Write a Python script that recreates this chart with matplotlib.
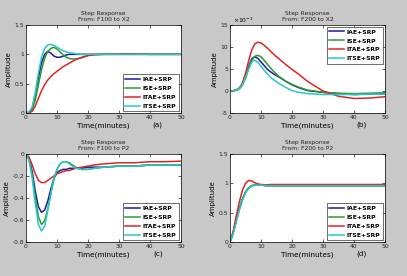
import matplotlib
matplotlib.use("Agg")
import matplotlib.pyplot as plt

# ---------------------------------------------------------------------------
# Data (step responses, time in minutes)
# ---------------------------------------------------------------------------
t = [0, 1, 2, 3, 4, 5, 6, 7, 8, 9, 10, 11, 12, 13, 14, 15, 16, 18, 20, 22, 25, 30, 35, 40, 45, 50]

labels = ["IAE+SRP", "ISE+SRP", "ITAE+SRP", "ITSE+SRP"]

# (a) F100 -> X2
a_iae = [0, 0.01, 0.08, 0.30, 0.60, 0.85, 1.00, 1.05, 1.02, 0.97, 0.95, 0.95, 0.97, 0.99, 1.00, 1.00, 1.00, 1.00, 1.00, 1.00, 1.00, 1.00, 1.00, 1.00, 1.00, 1.00]
a_ise = [0, 0.01, 0.06, 0.22, 0.48, 0.74, 0.93, 1.05, 1.10, 1.12, 1.09, 1.04, 0.99, 0.95, 0.93, 0.92, 0.92, 0.94, 0.98, 1.00, 1.00, 1.00, 1.00, 1.00, 1.00, 1.00]
a_itae = [0, 0.00, 0.03, 0.12, 0.25, 0.38, 0.48, 0.56, 0.62, 0.67, 0.71, 0.75, 0.79, 0.82, 0.85, 0.88, 0.91, 0.95, 0.98, 0.99, 1.00, 1.01, 1.01, 1.00, 1.00, 1.00]
a_itse = [0, 0.02, 0.10, 0.35, 0.68, 0.95, 1.10, 1.16, 1.17, 1.15, 1.12, 1.09, 1.06, 1.04, 1.03, 1.02, 1.01, 1.00, 1.00, 1.00, 1.00, 1.00, 1.00, 1.00, 1.00, 1.00]

# (b) F200 -> X2, values in units of 1e-3
b_iae = [0, 0.05, 0.2, 0.6, 1.5, 3.2, 5.5, 7.3, 7.8, 7.4, 6.6, 5.8, 5.0, 4.4, 3.9, 3.5, 3.1, 2.2, 1.4, 0.8, 0.1, -0.3, -0.6, -0.8, -0.7, -0.6]
b_ise = [0, 0.05, 0.2, 0.5, 1.3, 2.9, 5.0, 6.9, 7.9, 8.1, 7.8, 7.0, 6.1, 5.3, 4.5, 3.8, 3.2, 2.2, 1.5, 0.9, 0.2, -0.3, -0.5, -0.6, -0.5, -0.4]
b_itae = [0, 0.05, 0.2, 0.7, 1.8, 4.0, 6.8, 9.3, 10.7, 11.1, 10.9, 10.4, 9.8, 9.1, 8.4, 7.8, 7.2, 6.0, 4.9, 3.9, 2.2, 0.0, -1.2, -1.7, -1.6, -1.3]
b_itse = [0, 0.05, 0.2, 0.6, 1.5, 3.1, 5.0, 6.6, 7.0, 6.5, 5.6, 4.7, 3.9, 3.2, 2.6, 2.1, 1.6, 0.8, 0.1, -0.3, -0.6, -0.8, -0.8, -0.8, -0.7, -0.7]

# (c) F100 -> P2
c_iae = [0, -0.04, -0.16, -0.34, -0.48, -0.53, -0.51, -0.43, -0.32, -0.22, -0.17, -0.15, -0.14, -0.14, -0.13, -0.13, -0.13, -0.13, -0.12, -0.12, -0.12, -0.11, -0.11, -0.10, -0.10, -0.10]
c_ise = [0, -0.05, -0.19, -0.40, -0.57, -0.64, -0.61, -0.50, -0.36, -0.23, -0.14, -0.09, -0.07, -0.07, -0.08, -0.10, -0.12, -0.14, -0.14, -0.13, -0.12, -0.11, -0.11, -0.10, -0.10, -0.10]
c_itae = [0, -0.03, -0.10, -0.18, -0.24, -0.26, -0.26, -0.24, -0.22, -0.20, -0.18, -0.17, -0.16, -0.15, -0.15, -0.14, -0.13, -0.12, -0.11, -0.10, -0.09, -0.08, -0.08, -0.07, -0.07, -0.065]
c_itse = [0, -0.06, -0.22, -0.45, -0.64, -0.70, -0.66, -0.52, -0.36, -0.22, -0.14, -0.09, -0.07, -0.07, -0.09, -0.11, -0.13, -0.14, -0.14, -0.13, -0.12, -0.11, -0.11, -0.10, -0.10, -0.10]

# (d) F200 -> P2
d_iae = [0, 0.15, 0.36, 0.56, 0.73, 0.85, 0.92, 0.96, 0.97, 0.97, 0.97, 0.965, 0.96, 0.96, 0.96, 0.96, 0.96, 0.96, 0.96, 0.96, 0.96, 0.96, 0.96, 0.96, 0.96, 0.96]
d_ise = [0, 0.15, 0.36, 0.56, 0.73, 0.85, 0.92, 0.96, 0.97, 0.97, 0.97, 0.965, 0.96, 0.96, 0.96, 0.96, 0.96, 0.96, 0.96, 0.96, 0.96, 0.96, 0.96, 0.96, 0.96, 0.96]
d_itae = [0, 0.18, 0.44, 0.68, 0.88, 1.00, 1.05, 1.04, 1.01, 0.99, 0.98, 0.975, 0.975, 0.98, 0.98, 0.98, 0.98, 0.98, 0.98, 0.98, 0.98, 0.98, 0.98, 0.98, 0.98, 0.98]
d_itse = [0, 0.14, 0.34, 0.54, 0.71, 0.84, 0.91, 0.95, 0.97, 0.97, 0.97, 0.965, 0.96, 0.96, 0.96, 0.96, 0.96, 0.96, 0.96, 0.96, 0.96, 0.96, 0.96, 0.96, 0.96, 0.96]

colors = ["#1a1aa8", "#2e9a2e", "#e02424", "#28c8c8"]
BG = "#c8c8c8"

panels = [
    # (series, subtitle, ylim, yticks, legend loc, tag)
    ([a_iae, a_ise, a_itae, a_itse], "From: F100 to X2", (0, 1.5), [0, 0.5, 1, 1.5], "lower right", "(a)"),
    ([b_iae, b_ise, b_itae, b_itse], "From: F200 to X2", (-5, 15), [-5, 0, 5, 10, 15], "upper right", "(b)"),
    ([c_iae, c_ise, c_itae, c_itse], "From: F100 to P2", (-0.8, 0), [-0.8, -0.6, -0.4, -0.2, 0], "lower right", "(c)"),
    ([d_iae, d_ise, d_itae, d_itse], "From: F200 to P2", (0, 1.5), [0, 0.5, 1, 1.5], "lower right", "(d)"),
]

W, H = 407, 276
boxes = [(26, 25, 155, 88), (230, 25, 155, 88), (26, 154, 155, 88), (230, 154, 155, 88)]

fig = plt.figure(figsize=(W / 100, H / 100), dpi=100, facecolor=BG)

for (series, sub, ylim, yticks, loc, tag), (x0, y0, w, h) in zip(panels, boxes):
    ax = fig.add_axes([x0 / W, 1 - (y0 + h) / H, w / W, h / H])
    for s, c, lab in zip(series, colors, labels):
        ax.plot(t, s, color=c, linewidth=1.1, label=lab)
    ax.set_xlim(0, 50)
    ax.set_ylim(*ylim)
    ax.set_xticks([0, 10, 20, 30, 40, 50])
    ax.set_yticks(yticks)
    ax.set_yticklabels([f"{v:g}" for v in yticks])
    ax.tick_params(direction="in", length=2, width=0.5, labelsize=4.3, pad=1.5,
                   top=True, right=True, colors="#222222")
    for sp in ax.spines.values():
        sp.set_linewidth(0.5)
    ax.set_title("Step Response\n" + sub, fontsize=4.3, pad=3, color="#222222",
                 linespacing=1.3)
    ax.set_xlabel("Time(minutes)", fontsize=5.2, labelpad=1.5)
    ax.set_ylabel("Amplitude", fontsize=5, labelpad=1.5)
    ax.text(0.85, -0.13, tag, transform=ax.transAxes, fontsize=5.2, ha="center", va="center")
    leg = ax.legend(loc=loc, fontsize=4.4, frameon=True, fancybox=False, borderaxespad=0.3,
                    handlelength=2.4, labelspacing=0.6, borderpad=0.4, handletextpad=0.5)
    leg.get_frame().set_edgecolor("black")
    leg.get_frame().set_linewidth(0.5)
    for txt in leg.get_texts():
        txt.set_fontweight("bold")
    if tag == "(b)":
        ax.text(0.02, 1.0, r"$\times10^{-3}$", transform=ax.transAxes, fontsize=4.3,
                ha="left", va="bottom")

fig.savefig("out.png", dpi=100, facecolor=BG)
